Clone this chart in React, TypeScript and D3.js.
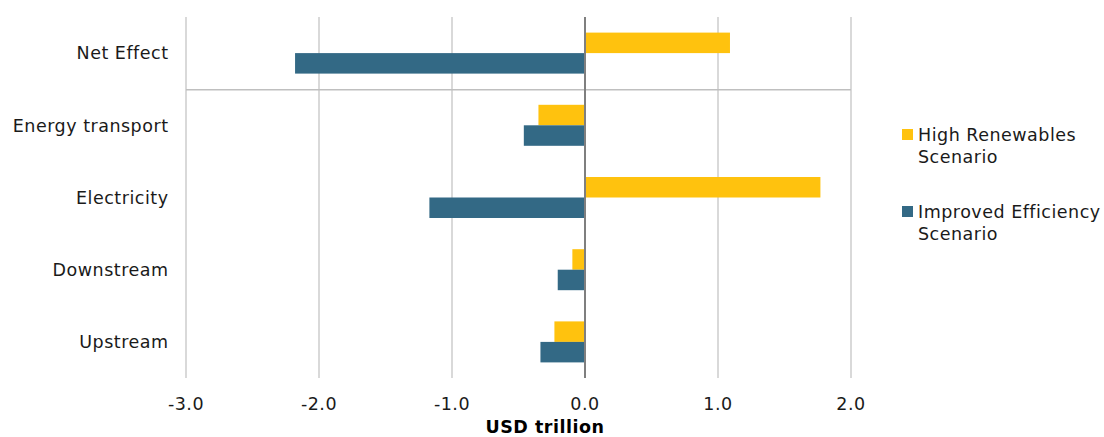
import React, { useEffect, useRef } from 'react';
import * as d3 from 'd3';

const categories = ['Net Effect', 'Energy transport', 'Electricity', 'Downstream', 'Upstream'];
const seriesNames = ['High Renewables Scenario', 'Improved Efficiency Scenario'];
const highRenewables = [1.09, -0.35, 1.77, -0.095, -0.23];
const improvedEfficiency = [-2.18, -0.46, -1.17, -0.205, -0.335];
const xTicks = [-3, -2, -1, 0, 1, 2];
const legendLines = [['High Renewables', 'Scenario'], ['Improved Efficiency', 'Scenario']];

const colors = ['#FFC20E', '#336985'];

export default function App() {
  const svgRef = useRef<SVGSVGElement>(null);

  useEffect(() => {
    if (!svgRef.current) return;
    const svg = d3.select(svgRef.current);
    svg.selectAll('*').remove();

    const font = '"DejaVu Sans", Verdana, sans-serif';
    const fontSize = 17.5;
    const spacing = 0.5;
    const top = 17, bottom = 378;

    const x = d3.scaleLinear().domain([-3, 2]).range([186, 851]);
    const y = d3.scaleBand<string>().domain(categories).range([top, bottom]).paddingInner(0).paddingOuter(0);
    const inner = d3.scaleBand<number>().domain([0, 1]).range([0, 41]);
    const barOffset = (y.bandwidth() - 41) / 2;

    // gridlines
    svg.append('g')
      .selectAll('line')
      .data(xTicks.filter(t => t !== 0))
      .enter()
      .append('line')
      .attr('x1', d => x(d))
      .attr('x2', d => x(d))
      .attr('y1', top)
      .attr('y2', bottom)
      .attr('stroke', '#d9d9d9')
      .attr('stroke-width', 2);

    // separator under Net Effect
    svg.append('line')
      .attr('x1', x(-3))
      .attr('x2', x(2))
      .attr('y1', (y('Energy transport') as number) + 0.5)
      .attr('y2', (y('Energy transport') as number) + 0.5)
      .attr('stroke', '#bfbfbf')
      .attr('stroke-width', 1.5);

    const series = [highRenewables, improvedEfficiency];
    series.forEach((vals, si) => {
      svg.append('g')
        .selectAll('rect')
        .data(vals)
        .enter()
        .append('rect')
        .attr('x', d => x(Math.min(0, d)))
        .attr('width', d => Math.abs(x(d) - x(0)))
        .attr('y', (_, i) => (y(categories[i]) as number) + barOffset + (inner(si) as number))
        .attr('height', inner.bandwidth())
        .attr('fill', colors[si]);
    });

    // zero axis
    svg.append('line')
      .attr('x1', x(0))
      .attr('x2', x(0))
      .attr('y1', top)
      .attr('y2', bottom)
      .attr('stroke', '#7f7f7f')
      .attr('stroke-width', 2);

    // category labels
    svg.append('g')
      .selectAll('text')
      .data(categories)
      .enter()
      .append('text')
      .attr('x', 168.5)
      .attr('y', d => (y(d) as number) + y.bandwidth() / 2)
      .attr('dy', '0.36em')
      .attr('text-anchor', 'end')
      .attr('font-family', font)
      .attr('font-size', fontSize)
      .attr('letter-spacing', spacing)
      .attr('fill', '#1a1a1a')
      .text(d => d);

    // tick labels
    svg.append('g')
      .selectAll('text')
      .data(xTicks)
      .enter()
      .append('text')
      .attr('x', d => x(d))
      .attr('y', 410)
      .attr('text-anchor', 'middle')
      .attr('font-family', font)
      .attr('font-size', fontSize)
      .attr('letter-spacing', spacing)
      .attr('fill', '#1a1a1a')
      .text(d => d3.format('.1f')(d).replace('−', '-'));

    svg.append('text')
      .attr('x', 545)
      .attr('y', 433)
      .attr('text-anchor', 'middle')
      .attr('font-family', font)
      .attr('font-weight', 'bold')
      .attr('font-size', fontSize)
      .attr('letter-spacing', spacing)
      .attr('fill', '#000')
      .text('USD trillion');

    // legend
    const legend = svg.append('g')
      .selectAll('g')
      .data(seriesNames)
      .enter()
      .append('g')
      .attr('transform', (_, i) => `translate(902,${129 + i * 77})`);
    legend.append('rect')
      .attr('width', 11)
      .attr('height', 11)
      .attr('fill', (_, i) => colors[i]);
    legend.each(function (_, i) {
      const t = d3.select(this).append('text')
        .attr('x', 16)
        .attr('y', 12)
        .attr('font-family', font)
        .attr('font-size', fontSize)
        .attr('letter-spacing', spacing)
        .attr('fill', '#1a1a1a');
      legendLines[i].forEach((ln, j) => {
        t.append('tspan').attr('x', 16).attr('dy', j === 0 ? 0 : 22).text(ln);
      });
    });
  }, []);

  return (
    <svg
      ref={svgRef}
      width={1104}
      height={437}
      style={{ position: 'fixed', left: 0, top: 0, display: 'block', background: '#fff' }}
    ></svg>
  );
}
